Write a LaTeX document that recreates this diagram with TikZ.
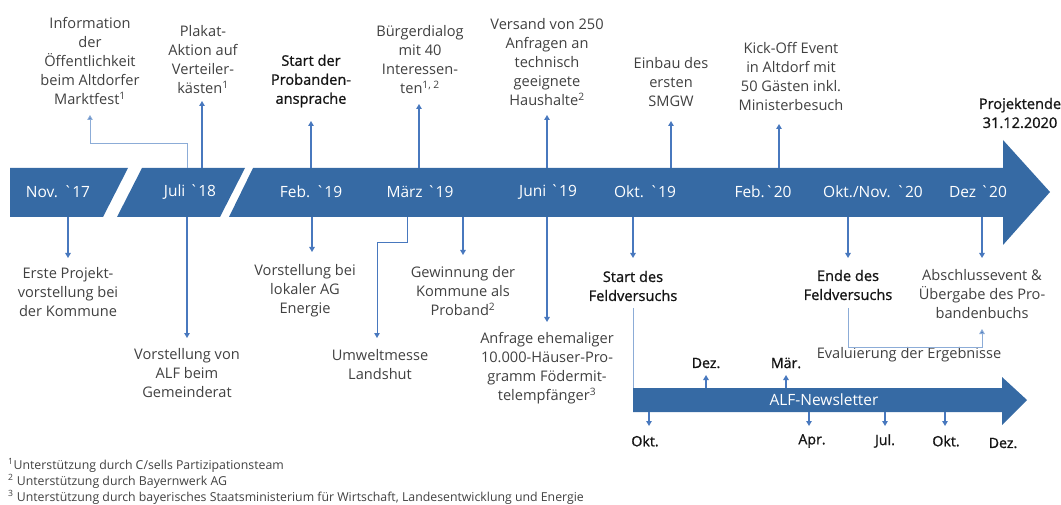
\documentclass[tikz,border=0pt]{standalone}
\usepackage{fontspec}
\setmainfont{Open Sans}
\newfontfamily\semib[FakeBold=1]{Open Sans}
\usetikzlibrary{arrows.meta}
\definecolor{band}{RGB}{54,106,164}
\definecolor{link}{RGB}{72,120,190}
\definecolor{linklight}{RGB}{140,172,215}
\definecolor{txt}{RGB}{64,64,64}
\definecolor{txtb}{RGB}{20,20,20}
\newcommand{\fnm}[1]{\textsuperscript{#1}}
\newcommand{\gr}{\textasciigrave}
\tikzset{
  lbl/.style={align=center, text=txt, font=\fontsize{14.6}{19}\selectfont, inner sep=0pt},
  blbl/.style={align=center, text=txtb, font=\semib\fontsize{14.6}{19}\selectfont, inner sep=0pt},
  datelbl/.style={text=white, font=\fontsize{15.5}{18}\selectfont, inner sep=0pt},
  tick/.style={text=txtb, font=\semib\fontsize{14.2}{16}\selectfont, inner sep=0pt},
  conn/.style={draw=link, line width=1.2pt, -{Triangle[width=5.5pt,length=5pt]}},
  connt/.style={draw=link, line width=0.9pt, -{Triangle[width=5.5pt,length=5pt]}},
  connl/.style={draw=linklight, line width=1pt, -{Triangle[width=5.5pt,length=5pt,fill=link]}},
  plain/.style={draw=linklight, line width=1pt},
  foot/.style={anchor=base west, text=txt, font=\fontsize{12.3}{14}\selectfont, inner sep=0pt},
}
\begin{document}
\begin{tikzpicture}[x=1pt,y=-1pt]
\useasboundingbox (0,0) rectangle (1061,505);

% main time band, three pieces
\fill[band] (10,168) -- (128,168) -- (103,217) -- (10,217) -- cycle;
\fill[band] (142,168) -- (245,168) -- (220,217) -- (117,217) -- cycle;
\fill[band] (253,168) -- (1003,168) -- (1003,140) -- (1050,192) -- (1003,245) -- (1003,217) -- (229,217) -- cycle;

% dates on the band
\node[datelbl] (d1) at (58,192) {Nov. \gr17};
\node[datelbl] (d2) at (190,192) {Juli \gr18};
\node[datelbl] (d3) at (311,192) {Feb. \gr19};
\node[datelbl] (d4) at (420,192) {März \gr19};
\node[datelbl] (d5) at (548,192) {Juni \gr19};
\node[datelbl] (d6) at (645,192) {Okt. \gr19};
\node[datelbl] (d7) at (763,192) {Feb.\gr20};
\node[datelbl] (d8) at (873,192) {Okt./Nov. \gr20};
\node[datelbl] (d9) at (978,192) {Dez \gr20};

% events above the band
\node[lbl] (info) at (90,61) {Information\\der\\Öffentlichkeit\\beim Altdorfer\\Marktfest\fnm{1}};
\node[lbl] (plakat) at (203,60) {Plakat-\\Aktion auf\\Verteiler-\\kästen\fnm{1}};
\node[blbl] (start) at (311,81) {Start der\\Probanden-\\ansprache};
\node[lbl] (buerger) at (420,60) {Bürgerdialog\\mit 40\\Interessen-\\ten\fnm{1, 2}};
\node[lbl] (versand) at (547,62) {Versand von 250\\Anfragen an\\technisch\\geeignete\\Haushalte\fnm{2}};
\node[lbl] (einbau) at (671,82) {Einbau des\\ersten\\SMGW};
\node[lbl] (kick) at (791,76) {Kick-Off Event\\in Altdorf mit\\50 Gästen inkl.\\Ministerbesuch};
\node[blbl] (ende) at (1020,113) {Projektende\\31.12.2020};

% events below the band
\node[lbl] (erste) at (68,292) {Erste Projekt-\\vorstellung bei\\der Kommune};
\node[lbl] (gemeinde) at (187,373) {Vorstellung von\\ALF beim\\Gemeinderat};
\node[lbl] (ag) at (305,291) {Vorstellung bei\\lokaler AG\\Energie};
\node[lbl] (umwelt) at (380,365) {Umweltmesse\\Landshut};
\node[lbl] (gewinn) at (463,291) {Gewinnung der\\Kommune als\\Proband\fnm{2}};
\node[lbl] (anfrage) at (547,368) {Anfrage ehemaliger\\10.000-Häuser-Pro-\\gramm Födermit-\\telempfänger\fnm{3}};
\node[blbl] (startfeld) at (633,286) {Start des\\Feldversuchs};
\node[blbl] (endefeld) at (848,285) {Ende des\\Feldversuchs};
\node[lbl] (abschluss) at (982,294) {Abschlussevent \&\\Übergabe des Pro-\\bandenbuchs};
\node[lbl] (eval) at (909,355) {Evaluierung der Ergebnisse};

% connector points on the band edges
\coordinate (u-info) at (187,168);
\coordinate (u-plakat) at (202,168);
\coordinate (u-start) at (311,168);
\coordinate (u-buerger) at (419,168);
\coordinate (u-versand) at (547,168);
\coordinate (u-einbau) at (671,168);
\coordinate (u-kick) at (779,168);
\coordinate (l-erste) at (68,217);
\coordinate (l-gemeinde) at (187,217);
\coordinate (l-ag) at (312,217);
\coordinate (l-umwelt) at (407,217);
\coordinate (l-gewinn) at (463,217);
\coordinate (l-anfrage) at (547,217);
\coordinate (l-startfeld) at (633,217);
\coordinate (l-endefeld) at (848,217);
\coordinate (l-abschluss) at (982,217);

% arrow tips next to the texts
\coordinate (a-info) at (90,115);
\coordinate (a-plakat) at (202,101);
\coordinate (a-start) at (311,121);
\coordinate (a-buerger) at (419,104);
\coordinate (a-versand) at (547,115);
\coordinate (a-einbau) at (671,121);
\coordinate (a-kick) at (779,124);
\coordinate (a-erste) at (68,258);
\coordinate (a-gemeinde) at (187,338);
\coordinate (a-ag) at (312,252);
\coordinate (a-umwelt) at (377,338);
\coordinate (a-gewinn) at (463,255);
\coordinate (a-anfrage) at (547,322);
\coordinate (a-startfeld) at (633,258);
\coordinate (a-endefeld) at (848,258);
\coordinate (a-abschluss) at (982,258);

\draw[connl] (u-info) -- (187,144) -| (a-info);
\draw[conn] (u-plakat) -- (a-plakat);
\draw[conn] (u-start) -- (a-start);
\draw[conn] (u-buerger) -- (a-buerger);
\draw[conn] (u-versand) -- (a-versand);
\draw[conn] (u-einbau) -- (a-einbau);
\draw[conn] (u-kick) -- (a-kick);

\draw[conn] (l-erste) -- (a-erste);
\draw[conn] (l-gemeinde) -- (a-gemeinde);
\draw[conn] (l-ag) -- (a-ag);
\draw[connt] (l-umwelt) -- (407,242) -| (a-umwelt);
\draw[conn] (l-gewinn) -- (a-gewinn);
\draw[conn] (l-anfrage) -- (a-anfrage);
\draw[conn] (l-startfeld) -- (a-startfeld);
\draw[conn] (l-endefeld) -- (a-endefeld);
\draw[conn] (l-abschluss) -- (a-abschluss);

% newsletter arrow
\fill[band] (633,388) -- (1002,388) -- (1002,377) -- (1027,400) -- (1002,425) -- (1002,412) -- (633,412) -- cycle;
\node[datelbl] (news) at (824,400) {ALF-Newsletter};

\coordinate (f-start) at (633,308);
\coordinate (f-news) at (633,388);
\draw[plain] (f-start) -- (f-news);
\coordinate (f-ende) at (848,308);
\coordinate (f-abschluss) at (982,329);
\draw[connl] (f-ende) -- (848,347) -| (f-abschluss);

% newsletter issues
\node[tick] (n1) at (706,363) {Dez.};
\node[tick] (n2) at (786,363) {Mär.};
\node[tick] (n3) at (645,441) {Okt.};
\node[tick] (n4) at (812,441) {Apr.};
\node[tick] (n5) at (885,441) {Jul.};
\node[tick] (n6) at (946,441) {Okt.};
\node[tick] (n7) at (1003,443) {Dez.};
\coordinate (t1) at (706,388); \coordinate (t2) at (786,388);
\coordinate (t3) at (649,412); \coordinate (t4) at (809,412);
\coordinate (t5) at (885,412); \coordinate (t6) at (945,412);
\draw[conn] (t1) -- (706,375);
\draw[conn] (t2) -- (786,375);
\draw[conn] (t3) -- (649,426);
\draw[conn] (t4) -- (809,426);
\draw[conn] (t5) -- (885,426);
\draw[conn] (t6) -- (945,426);

% footnotes
\node[foot] (fn1) at (8,469) {\fnm{1}Unterstützung durch C/sells Partizipationsteam};
\node[foot] (fn2) at (8,485) {\fnm{2} Unterstützung durch Bayernwerk AG};
\node[foot] (fn3) at (8,501) {\fnm{3} Unterstützung durch bayerisches Staatsministerium für Wirtschaft, Landesentwicklung und Energie};
\end{tikzpicture}
\end{document}
